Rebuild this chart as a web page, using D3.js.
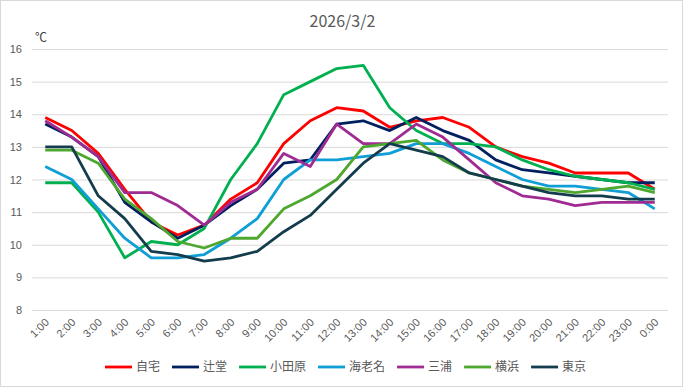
<!DOCTYPE html>
<html>
<head>
<meta charset="utf-8">
<script src="https://cdn.jsdelivr.net/npm/d3@7"></script>
<style>
  body { margin: 0; background: #fff; }
  svg text { font-family: "Noto Sans CJK JP", "Noto Sans", sans-serif; fill: #595959; }
</style>
</head>
<body>
<svg id="chart" width="683" height="387"></svg>
<script>
// hours on the x axis
var hours = ["1:00","2:00","3:00","4:00","5:00","6:00","7:00","8:00","9:00","10:00","11:00","12:00",
             "13:00","14:00","15:00","16:00","17:00","18:00","19:00","20:00","21:00","22:00","23:00","0:00"];

var yTicks = [8, 9, 10, 11, 12, 13, 14, 15, 16];

var jitaku   = [13.9,13.5,12.8,11.7,10.7,10.3,10.6,11.4,11.9,13.1,13.8,14.2,14.1,13.6,13.8,13.9,13.6,13.0,12.7,12.5,12.2,12.2,12.2,11.7];
var tsujido  = [13.7,13.3,12.7,11.3,10.7,10.2,10.6,11.2,11.7,12.5,12.6,13.7,13.8,13.5,13.9,13.5,13.2,12.6,12.3,12.2,12.1,12.0,11.9,11.9];
var odawara  = [11.9,11.9,11.0,9.6,10.1,10.0,10.5,12.0,13.1,14.6,15.0,15.4,15.5,14.2,13.5,13.1,13.1,13.0,12.6,12.3,12.1,12.0,11.9,11.7];
var ebina    = [12.4,12.0,11.1,10.2,9.6,9.6,9.7,10.2,10.8,12.0,12.6,12.6,12.7,12.8,13.1,13.1,12.8,12.4,12.0,11.8,11.8,11.7,11.6,11.1];
var miura    = [13.8,13.3,12.7,11.6,11.6,11.2,10.6,11.3,11.7,12.8,12.4,13.7,13.1,13.1,13.7,13.3,12.6,11.9,11.5,11.4,11.2,11.3,11.3,11.3];
var yokohama = [12.9,12.9,12.5,11.4,10.8,10.1,9.9,10.2,10.2,11.1,11.5,12.0,13.0,13.1,13.2,12.6,12.2,12.0,11.8,11.7,11.6,11.7,11.8,11.6];
var tokyo    = [13.0,13.0,11.5,10.8,9.8,9.7,9.5,9.6,9.8,10.4,10.9,11.7,12.5,13.1,12.9,12.7,12.2,12.0,11.8,11.6,11.5,11.5,11.4,11.4];

var seriesNames  = ["自宅","辻堂","小田原","海老名","三浦","横浜","東京"];
var seriesColors = ["#ff0000","#002060","#00b050","#0f9ed5","#a02b93","#4ea72e","#133c4c"];
var seriesValues = [jitaku, tsujido, odawara, ebina, miura, yokohama, tokyo];

var svg = d3.select("#chart"),
    W = 683, H = 387,
    margin = {left: 32, right: 15, top: 49, bottom: 77},
    plotW = W - margin.left - margin.right,
    plotH = H - margin.top - margin.bottom;

// chart border
svg.append("rect")
  .attr("x", 0.5).attr("y", 0.5)
  .attr("width", W - 1).attr("height", H - 1)
  .attr("fill", "#fff").attr("stroke", "#d9d9d9");

svg.append("text")
  .attr("x", W / 2 + 1).attr("y", 27)
  .attr("text-anchor", "middle")
  .style("font-size", "16px")
  .text("2026/3/2");

svg.append("text")
  .attr("x", 35).attr("y", 42)
  .style("font-size", "12px")
  .style("fill", "#404040")
  .text("℃");

var x = d3.scalePoint()
  .domain(hours)
  .range([margin.left, margin.left + plotW])
  .padding(0.5);

var y = d3.scaleLinear()
  .domain([8, 16])
  .range([margin.top + plotH, margin.top]);

// gridlines + y labels
var yAxis = svg.append("g")
  .attr("transform", "translate(" + margin.left + ",0)")
  .call(d3.axisLeft(y).tickValues(yTicks).tickSize(-plotW).tickPadding(10).tickFormat(d3.format("d")));
yAxis.select(".domain").remove();
yAxis.selectAll("line").attr("stroke", "#d9d9d9");
yAxis.selectAll("text").style("font-size", "11px").style("fill", "#595959").style("font-family", "Liberation Sans, sans-serif");

// x labels, rotated
var xAxis = svg.append("g")
  .attr("transform", "translate(0," + (margin.top + plotH) + ")")
  .call(d3.axisBottom(x).tickSize(0));
xAxis.select(".domain").remove();
xAxis.selectAll("text")
  .style("font-size", "11px")
  .style("font-family", "Liberation Sans, sans-serif")
  .attr("text-anchor", "end")
  .attr("dy", null)
  .attr("y", 0)
  .attr("transform", function(d) { return "translate(4,13) rotate(-45)"; });

var line = d3.line()
  .x(function(d, i) { return x(hours[i]); })
  .y(function(d) { return y(d); });

svg.append("g").selectAll("path")
  .data(seriesValues)
  .enter().append("path")
    .attr("d", line)
    .attr("fill", "none")
    .attr("stroke", function(d, i) { return seriesColors[i]; })
    .attr("stroke-width", 2.8)
    .attr("stroke-linejoin", "round");

// legend
var legend = svg.append("g").attr("transform", "translate(0,367)");
var lx = 105;
seriesNames.forEach(function(name, i) {
  var item = legend.append("g").attr("transform", "translate(" + lx + ",0)");
  item.append("line")
    .attr("x1", 0).attr("x2", 27)
    .attr("stroke", seriesColors[i]).attr("stroke-width", 2.8);
  var t = item.append("text")
    .attr("x", 31).attr("dy", "0.35em")
    .style("font-size", "12px")
    .text(name);
  lx += 31 + t.node().getComputedTextLength() + 12;
});
</script>
</body>
</html>
